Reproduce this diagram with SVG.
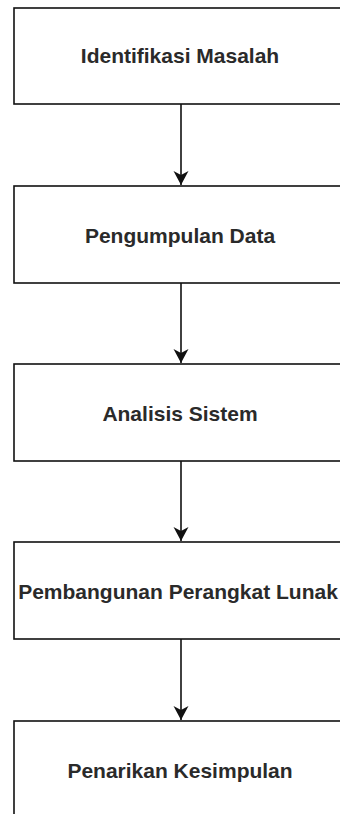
<svg xmlns="http://www.w3.org/2000/svg" width="340" height="814" viewBox="0 0 340 814">
<style>
.box{fill:#fff;stroke:#111;stroke-width:1.6}
.lbl{font-family:"Liberation Sans",Arial,sans-serif;font-size:21px;font-weight:bold;fill:#2a2a2a;text-anchor:middle}
.edge{stroke:#111;stroke-width:1.6;fill:none}
</style>
<defs>
<marker id="arr" markerWidth="16" markerHeight="16" viewBox="0 0 16 16" refX="14" refY="8" orient="auto" markerUnits="userSpaceOnUse">
<path d="M0,0.5 L14,8 L0,15.5 L4,8 Z" fill="#111"/>
</marker>
</defs>
<rect width="340" height="814" fill="#fff"/>
<g id="connectors">
<line class="edge" x1="181" y1="104" x2="181" y2="185" marker-end="url(#arr)"/>
<line class="edge" x1="181" y1="283" x2="181" y2="363" marker-end="url(#arr)"/>
<line class="edge" x1="181" y1="461" x2="181" y2="541" marker-end="url(#arr)"/>
<line class="edge" x1="181" y1="639" x2="181" y2="720" marker-end="url(#arr)"/>
</g>
<g id="n1"><rect class="box" x="14" y="8" width="332" height="96"/><text class="lbl" x="180" y="63">Identifikasi Masalah</text></g>
<g id="n2"><rect class="box" x="14" y="186" width="332" height="97"/><text class="lbl" x="180" y="243">Pengumpulan Data</text></g>
<g id="n3"><rect class="box" x="14" y="364" width="332" height="97"/><text class="lbl" x="180" y="421">Analisis Sistem</text></g>
<g id="n4"><rect class="box" x="14" y="542" width="332" height="97"/><text class="lbl" x="178" y="599">Pembangunan Perangkat Lunak</text></g>
<g id="n5"><rect class="box" x="14" y="721" width="332" height="97"/><text class="lbl" x="180" y="778">Penarikan Kesimpulan</text></g>
</svg>
